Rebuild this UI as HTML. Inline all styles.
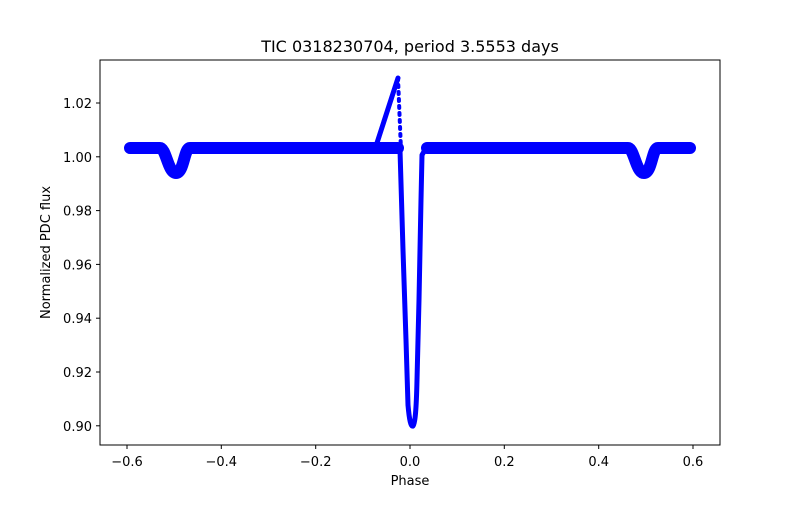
<!DOCTYPE html>
<html><head><style>body{margin:0;background:#fff}</style></head><body>
<svg width="800" height="500" xmlns="http://www.w3.org/2000/svg" font-family="DejaVu Sans, sans-serif">
<rect width="800" height="500" fill="#fff"/>
<g fill="none" stroke="#0000ff" stroke-linecap="round" stroke-linejoin="round">
<path d="M130,148 L160,148 C166,148 168,173 176,173 C184,173 184,148 190,148 L398,148" stroke-width="12"/>
<path d="M427,148 L628,148 C634,148 636,173 644,173 C652,173 652,148 658,148 L690,148" stroke-width="12"/>
<path d="M376,146 L398,78" stroke-width="5"/>
<path d="M398,78 L401,150" stroke-width="4" stroke-dasharray="2 5"/>
<path d="M400,150 L403,250 L406,340 L408,405 Q410,428 413,426 Q416,424 417,380 L419,300 L421,200 L422,155 L426,148" stroke-width="5"/>
</g>
<rect x="100" y="60" width="620" height="385" fill="none" stroke="#000" stroke-width="1"/>
<g stroke="#000" stroke-width="1">
<line x1="127" y1="445" x2="127" y2="449"/><line x1="221.3" y1="445" x2="221.3" y2="449"/><line x1="315.7" y1="445" x2="315.7" y2="449"/><line x1="410" y1="445" x2="410" y2="449"/><line x1="504.3" y1="445" x2="504.3" y2="449"/><line x1="598.7" y1="445" x2="598.7" y2="449"/><line x1="693" y1="445" x2="693" y2="449"/>
<line x1="96" y1="103" x2="100" y2="103"/><line x1="96" y1="156.8" x2="100" y2="156.8"/><line x1="96" y1="210.6" x2="100" y2="210.6"/><line x1="96" y1="264.4" x2="100" y2="264.4"/><line x1="96" y1="318.2" x2="100" y2="318.2"/><line x1="96" y1="372" x2="100" y2="372"/><line x1="96" y1="425.8" x2="100" y2="425.8"/>
</g>
<g font-size="13" fill="#000" text-anchor="middle">
<text x="127" y="466">−0.6</text><text x="221.3" y="466">−0.4</text><text x="315.7" y="466">−0.2</text><text x="410" y="466">0.0</text><text x="504.3" y="466">0.2</text><text x="598.7" y="466">0.4</text><text x="693" y="466">0.6</text>
<text x="410" y="485">Phase</text>
<text x="410" y="52" font-size="16">TIC 0318230704, period 3.5553 days</text>
</g>
<g font-size="13" fill="#000" text-anchor="end">
<text x="92" y="108">1.02</text><text x="92" y="161.8">1.00</text><text x="92" y="215.6">0.98</text><text x="92" y="269.4">0.96</text><text x="92" y="323.2">0.94</text><text x="92" y="377">0.92</text><text x="92" y="430.8">0.90</text>
</g>
<text transform="translate(50,252.5) rotate(-90)" font-size="13" text-anchor="middle">Normalized PDC flux</text>
</svg>
</body></html>
